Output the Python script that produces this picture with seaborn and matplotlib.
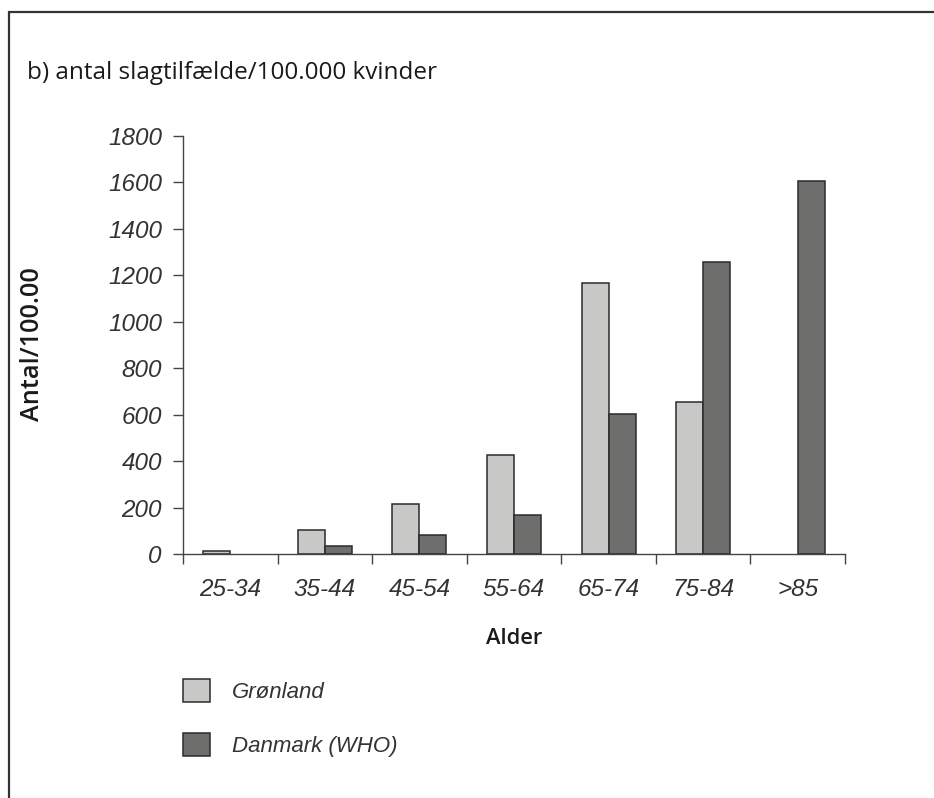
import matplotlib
matplotlib.use("Agg")
import matplotlib.pyplot as plt
import seaborn as sns
import pandas as pd
import numpy as np
from matplotlib.patches import Rectangle
from matplotlib.font_manager import FontProperties

# ---- data ----
age_groups = ["25-34", "35-44", "45-54", "55-64", "65-74", "75-84", ">85"]
groenland = [12, 104, 214, 427, 1167, 654, np.nan]
danmark = [np.nan, 35, 80, 168, 602, 1256, 1604]
series_names = ["Grønland", "Danmark (WHO)"]
y_ticks = [0, 200, 400, 600, 800, 1000, 1200, 1400, 1600, 1800]
title_text = "b) antal slagtilfælde/100.000 kvinder"
x_label = "Alder"
y_label = "Antal/100.00"

df = pd.DataFrame({
    "Alder": age_groups * 2,
    "Antal": groenland + danmark,
    "Serie": [series_names[0]] * len(age_groups) + [series_names[1]] * len(age_groups),
})

sns.set_theme(style="white")
plt.rcParams["font.family"] = ["Liberation Sans", "DejaVu Sans"]

W, H = 934, 798
fig = plt.figure(figsize=(W / 100, H / 100), dpi=100)
ax = fig.add_axes([183 / W, 1 - 554 / H, (845 - 183) / W, (554 - 135.7) / H])

sns.barplot(data=df, x="Alder", y="Antal", hue="Serie", order=age_groups,
            hue_order=series_names, palette=["#c8c8c7", "#6e6e6c"],
            width=0.57, edgecolor="#2b2b2b", linewidth=1.1, saturation=1,
            errorbar=None, ax=ax)

ax.set_xlim(-0.5, len(age_groups) - 0.5)
ax.set_ylim(0, 1800)

tick_font = FontProperties(family="Liberation Sans", style="italic", size=17.5)
ax.set_yticks(y_ticks)
ax.set_yticklabels([str(v) for v in y_ticks], fontproperties=tick_font, color="#333333")
ax.tick_params(axis="y", which="major", direction="out", length=7.2, width=1.0,
               color="#444444", pad=8, left=True)

pos = np.arange(len(age_groups))
ax.set_xticks(np.arange(-0.5, len(age_groups)), [""] * (len(age_groups) + 1))
ax.set_xticks(pos, age_groups, minor=True)
for lab in ax.get_xticklabels(minor=True):
    lab.set_fontproperties(tick_font)
    lab.set_color("#333333")
ax.tick_params(axis="x", which="major", direction="out", length=7.2, width=1.0,
               color="#444444", bottom=True)
ax.tick_params(axis="x", which="minor", length=0, pad=17, bottom=True)

for s in ["top", "right"]:
    ax.spines[s].set_visible(False)
for s in ["left", "bottom"]:
    ax.spines[s].set_color("#444444")
    ax.spines[s].set_linewidth(1.0)

ax.set_xlabel("")
ax.set_ylabel("")

label_family = ["Open Sans", "Liberation Sans", "DejaVu Sans"]
t_title = fig.text(27 / W, 1 - 73 / H, title_text, ha="left", va="center", fontsize=16,
                   family=label_family, weight=500, color="#1a1a1a")
t_x = fig.text(514 / W, 1 - 639 / H, x_label, ha="center", va="center", fontsize=16,
               family=label_family, weight=600, color="#1a1a1a")
t_y = fig.text(33 / W, 1 - 344 / H, y_label, ha="center", va="center", fontsize=16,
               rotation=90, family=label_family, weight=600, color="#1a1a1a")

# fit label sizes to the measured extents in the reference
renderer = fig.canvas.get_renderer()
for t, target, horiz in [(t_title, 410, True), (t_x, 57, True), (t_y, 154, False)]:
    bb = t.get_window_extent(renderer)
    cur = bb.width if horiz else bb.height
    t.set_fontsize(t.get_fontsize() * target / cur)

handles, labels = ax.get_legend_handles_labels()
ax.legend(handles, labels, loc="upper left", bbox_to_anchor=(183 / W, 1 - 679 / H),
          bbox_transform=fig.transFigure, frameon=False,
          prop=FontProperties(family="Liberation Sans", style="italic", size=16),
          handlelength=1.22, handleheight=1.22, labelspacing=1.35,
          handletextpad=1.0, borderpad=0, borderaxespad=0)
for t in ax.get_legend().get_texts():
    t.set_color("#333333")

fig.add_artist(Rectangle((9 / W, -0.2), 1.5, 1.2 - 12 / H, transform=fig.transFigure,
                         fill=False, edgecolor="#333333", linewidth=1.6, clip_on=False))

fig.savefig("out.png", dpi=100, facecolor="white")
